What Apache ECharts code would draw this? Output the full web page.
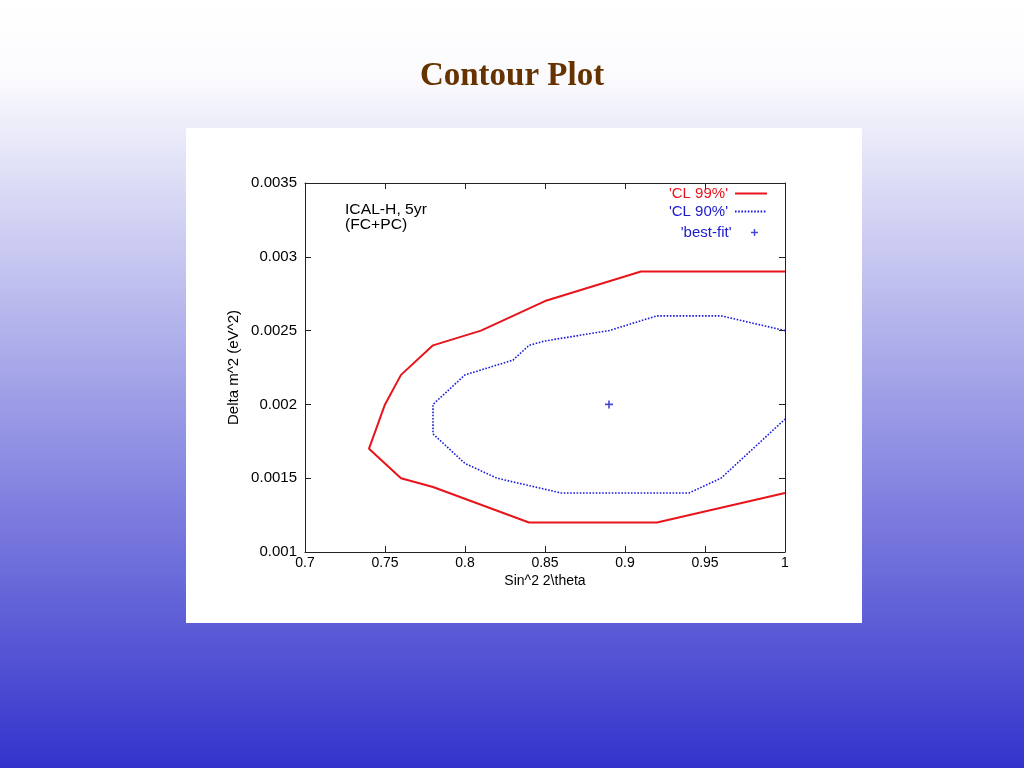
<!DOCTYPE html>
<html>
<head>
<meta charset="utf-8">
<script src="https://cdn.jsdelivr.net/npm/echarts@6/dist/echarts.min.js"></script>
<style>
html,body{margin:0;padding:0;width:1024px;height:768px;overflow:hidden;
background:linear-gradient(to bottom,#ffffff 0%,#fbfbfe 10%,#3333cc 100%);}
#c{width:1024px;height:768px;}
</style>
</head>
<body>
<div id="c"></div>
<script>
// CL 99% contour [sin^2 2theta, delta m^2]
const cl99 = [
  [1.0, 0.0029], [0.91, 0.0029], [0.85, 0.0027], [0.81, 0.0025], [0.78, 0.0024],
  [0.76, 0.0022], [0.75, 0.0020], [0.74, 0.0017], [0.76, 0.0015], [0.78, 0.00144],
  [0.84, 0.0012], [0.92, 0.0012], [0.96, 0.0013], [1.0, 0.0014]
];
// CL 90% contour
const cl90 = [
  [1.0, 0.0025], [0.96, 0.0026], [0.92, 0.0026], [0.89, 0.0025], [0.85, 0.00243],
  [0.84, 0.0024], [0.83, 0.0023], [0.80, 0.0022], [0.78, 0.0020], [0.78, 0.0018],
  [0.80, 0.0016], [0.82, 0.0015], [0.86, 0.0014], [0.94, 0.0014], [0.96, 0.0015],
  [1.0, 0.0019]
];
const bestFit = [[0.89, 0.0020]];
const xRange = [0.7, 1.0, 0.05];
const yRange = [0.001, 0.0035, 0.0005];
const seriesNames = ["'CL 99%'", "'CL 90%'", "'best-fit'"];

const chart = echarts.init(document.getElementById('c'));
const font = 'Liberation Sans, Arial, sans-serif';
const plusPath = 'path://M4,0L6,0L6,4L10,4L10,6L6,6L6,10L4,10L4,6L0,6L0,4L4,4Z';
const axisCommon = {
  axisLine: {show: true, lineStyle: {color: '#222', width: 1}},
  axisTick: {show: true, inside: true, length: 6, lineStyle: {color: '#222'}},
  splitLine: {show: false}
};
chart.setOption({
  backgroundColor: 'transparent',
  animation: false,
  title: {
    text: 'Contour Plot', left: 'center', top: 55,
    textStyle: {fontFamily: 'Liberation Serif, Times New Roman, serif', fontSize: 33, fontWeight: 'bold', color: '#663300'}
  },
  graphic: [
    {type: 'rect', z: -10, silent: true, shape: {x: 186, y: 128, width: 676, height: 495}, style: {fill: '#ffffff'}},
    {type: 'text', x: 345, y: 203, scaleX: 1.12, z: 10, style: {text: 'ICAL-H, 5yr\n(FC+PC)', fontFamily: font, fontSize: 14, lineHeight: 15, fill: '#000'}}
  ],
  grid: {left: 305, right: 239, top: 183, bottom: 216, containLabel: false},
  legend: [
    {
      orient: 'vertical', right: 251, top: 181, align: 'right',
      itemGap: 3, itemWidth: 32, itemHeight: 14,
      data: [
        {name: seriesNames[0], textStyle: {color: '#e8141b'}, itemStyle: {opacity: 0}},
        {name: seriesNames[1], textStyle: {color: '#1a1acc'}, itemStyle: {opacity: 0}}
      ],
      textStyle: {fontFamily: font, fontSize: 15, padding: [0, 2, 0, 0]}
    },
    {
      orient: 'vertical', right: 261, top: 220, align: 'right',
      itemWidth: 14, itemHeight: 7,
      data: [
        {name: seriesNames[2], icon: plusPath, textStyle: {color: '#1a1acc'}, itemStyle: {color: '#1a1acc'}}
      ],
      textStyle: {fontFamily: font, fontSize: 15, padding: [0, 11, 0, 0]}
    }
  ],
  xAxis: [
    Object.assign({}, axisCommon, {
      type: 'value', min: xRange[0], max: xRange[1], interval: xRange[2], position: 'bottom',
      name: 'Sin^2 2\\theta', nameLocation: 'middle', nameGap: 22,
      nameTextStyle: {fontFamily: font, fontSize: 14, color: '#000'},
      axisLabel: {fontFamily: font, fontSize: 14, color: '#000', margin: 4}
    }),
    Object.assign({}, axisCommon, {
      type: 'value', min: xRange[0], max: xRange[1], interval: xRange[2], position: 'top',
      axisLabel: {show: false}
    })
  ],
  yAxis: [
    Object.assign({}, axisCommon, {
      type: 'value', min: yRange[0], max: yRange[1], interval: yRange[2], position: 'left',
      name: 'Delta m^2 (eV^2)', nameLocation: 'middle', nameGap: 64, nameRotate: 90,
      nameTextStyle: {fontFamily: font, fontSize: 15, color: '#000'},
      axisLabel: {fontFamily: font, fontSize: 15, color: '#000', margin: 8,
        formatter: v => String(parseFloat(v.toPrecision(6)))}
    }),
    Object.assign({}, axisCommon, {
      type: 'value', min: yRange[0], max: yRange[1], interval: yRange[2], position: 'right',
      axisLabel: {show: false}
    })
  ],
  series: [
    {name: seriesNames[0], type: 'line', data: cl99, symbol: 'none', showSymbol: false,
     lineStyle: {color: '#e8141b', width: 2}, itemStyle: {color: '#e8141b'}},
    {name: seriesNames[1], type: 'line', data: cl90, symbol: 'none', showSymbol: false,
     lineStyle: {color: '#1a1add', width: 1.6, type: [1.6, 1.6]}, itemStyle: {color: '#1a1add'}},
    {name: seriesNames[2], type: 'scatter', data: bestFit,
     symbol: plusPath, symbolSize: 8,
     itemStyle: {color: '#1a1acc'}}
  ]
});
</script>
</body>
</html>
